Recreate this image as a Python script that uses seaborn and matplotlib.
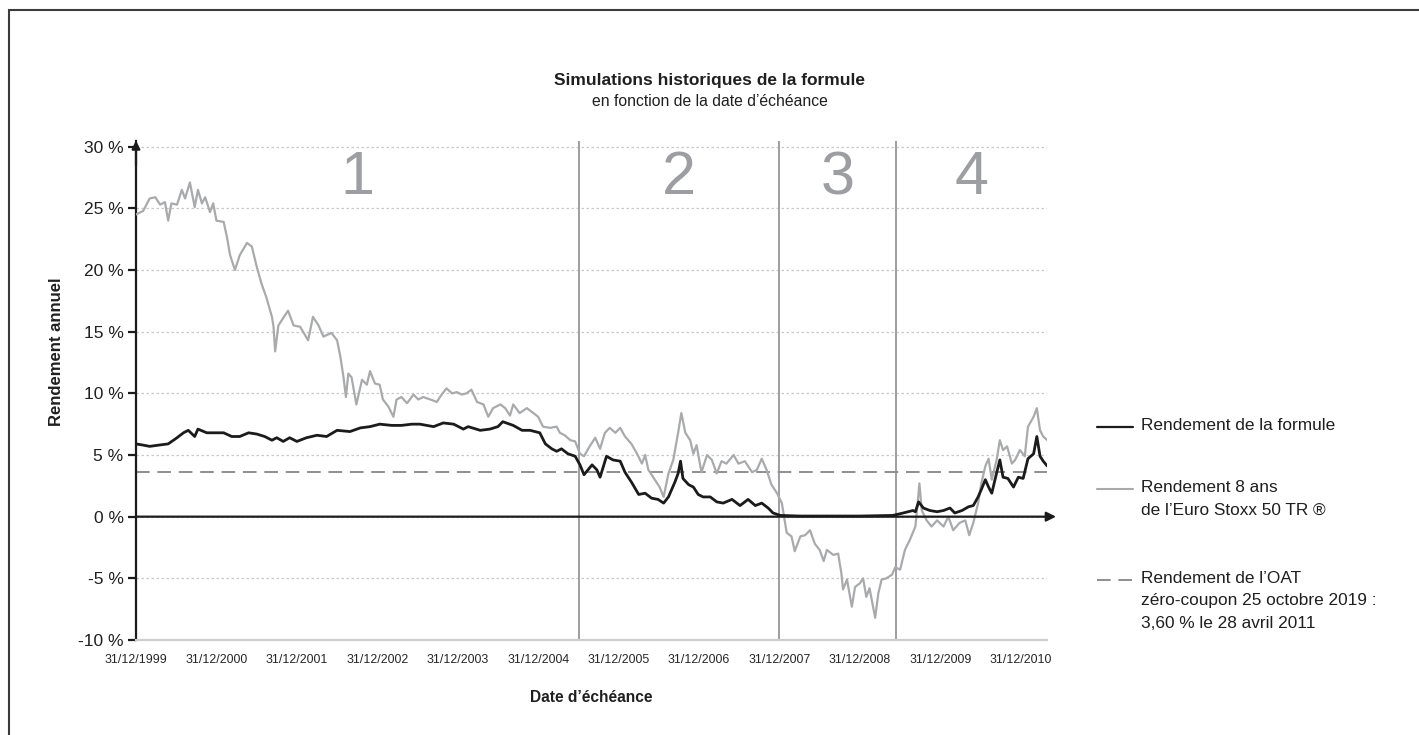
import matplotlib
matplotlib.use("Agg")
import matplotlib.pyplot as plt
import pandas as pd
import seaborn as sns
from matplotlib.lines import Line2D
from matplotlib.patches import Rectangle

# Data (decimal year of maturity, annual return in %)
stoxx_year = [
    2000.00, 2000.09, 2000.17, 2000.24, 2000.30, 2000.36, 2000.40, 2000.44, 2000.51, 2000.57, 2000.61, 2000.67, 2000.73, 2000.77, 2000.82, 2000.86, 2000.92, 2000.96,
    2001.00, 2001.09, 2001.13, 2001.17, 2001.23, 2001.29, 2001.38, 2001.44, 2001.50, 2001.56, 2001.62, 2001.69, 2001.71, 2001.73, 2001.77, 2001.89, 2001.96,
    2002.04, 2002.14, 2002.20, 2002.27, 2002.33, 2002.43, 2002.50, 2002.54, 2002.58, 2002.61, 2002.64, 2002.68, 2002.74, 2002.81, 2002.87, 2002.91, 2002.97,
    2003.03, 2003.07, 2003.14, 2003.20, 2003.24, 2003.30, 2003.37, 2003.45, 2003.51, 2003.57, 2003.66, 2003.74, 2003.80, 2003.86, 2003.93, 2003.99,
    2004.05, 2004.11, 2004.17, 2004.24, 2004.32, 2004.38, 2004.44, 2004.53, 2004.59, 2004.65, 2004.69, 2004.77, 2004.86, 2004.94,
    2005.00, 2005.06, 2005.15, 2005.23, 2005.27, 2005.33, 2005.40, 2005.46, 2005.52, 2005.57, 2005.64, 2005.71, 2005.77, 2005.83, 2005.89, 2005.96,
    2006.02, 2006.08, 2006.16, 2006.23, 2006.29, 2006.33, 2006.37, 2006.45, 2006.51, 2006.56, 2006.62, 2006.68, 2006.74, 2006.78, 2006.83, 2006.89, 2006.93, 2006.97,
    2007.03, 2007.10, 2007.16, 2007.22, 2007.28, 2007.34, 2007.43, 2007.49, 2007.57, 2007.66, 2007.72, 2007.78, 2007.84, 2007.90, 2007.97,
    2008.03, 2008.05, 2008.09, 2008.15, 2008.19, 2008.26, 2008.32, 2008.38, 2008.44, 2008.50, 2008.55, 2008.59, 2008.67, 2008.73, 2008.77, 2008.79, 2008.84, 2008.90, 2008.94,
    2009.00, 2009.04, 2009.08, 2009.12, 2009.19, 2009.23, 2009.27, 2009.33, 2009.40, 2009.44, 2009.50, 2009.56, 2009.62, 2009.69, 2009.71, 2009.74, 2009.77, 2009.83, 2009.89, 2009.96,
    2010.04, 2010.10, 2010.16, 2010.24, 2010.31, 2010.36, 2010.41, 2010.47, 2010.51, 2010.56, 2010.60, 2010.64, 2010.70, 2010.74, 2010.78, 2010.83, 2010.89, 2010.93, 2010.99,
    2011.05, 2011.09, 2011.16, 2011.20, 2011.24, 2011.28, 2011.33,
]
stoxx_value = [
    24.5, 24.8, 25.8, 25.9, 25.3, 25.5, 24.0, 25.4, 25.3, 26.5, 25.8, 27.1, 25.1, 26.5, 25.4, 25.9, 24.7, 25.4,
    24.0, 23.9, 22.7, 21.2, 20.0, 21.2, 22.2, 21.9, 20.3, 18.9, 17.8, 16.2, 15.4, 13.4, 15.5, 16.7, 15.5,
    15.4, 14.3, 16.2, 15.5, 14.6, 14.9, 14.3, 13.0, 11.3, 9.7, 11.6, 11.3, 9.1, 11.1, 10.7, 11.8, 10.8,
    10.7, 9.5, 8.9, 8.1, 9.5, 9.7, 9.2, 9.9, 9.5, 9.7, 9.5, 9.3, 9.9, 10.4, 10.0, 10.1,
    9.9, 10.0, 10.3, 9.3, 9.1, 8.1, 8.8, 9.1, 8.8, 8.2, 9.1, 8.4, 8.8, 8.4,
    8.1, 7.3, 7.2, 7.3, 6.8, 6.6, 6.2, 6.1, 5.1, 4.9, 5.7, 6.4, 5.5, 6.8, 7.2, 6.8,
    7.2, 6.5, 5.9, 5.1, 4.3, 5.0, 3.8, 3.0, 2.4, 1.6, 3.5, 4.6, 6.8, 8.4, 6.8, 6.2, 5.1, 5.8,
    3.6, 5.0, 4.6, 3.5, 4.5, 4.3, 5.0, 4.3, 4.5, 3.6, 3.8, 4.7, 3.8, 2.6, 1.9,
    1.1, 0.3, -1.3, -1.6, -2.8, -1.6, -1.5, -1.1, -2.2, -2.7, -3.6, -2.7, -3.1, -3.0, -4.6, -5.9, -5.1, -7.3, -5.7,
    -5.4, -5.0, -6.5, -5.8, -8.2, -6.2, -5.1, -5.0, -4.7, -4.1, -4.3, -2.7, -1.9, -0.8, 0.5, 2.7, 0.5, -0.3, -0.8, -0.3,
    -0.8, 0.0, -1.1, -0.5, -0.3, -1.5, -0.5, 1.1, 2.7, 4.1, 4.7, 3.0, 4.6, 6.2, 5.4, 5.7, 4.3, 4.6, 5.4,
    4.9, 7.3, 8.1, 8.8, 7.0, 6.5, 6.2,
]

formule_year = [
    2000.00, 2000.09, 2000.17, 2000.28, 2000.40, 2000.51, 2000.59, 2000.65, 2000.73, 2000.77, 2000.88, 2000.98,
    2001.09, 2001.19, 2001.29, 2001.40, 2001.50, 2001.60, 2001.69, 2001.75, 2001.83, 2001.91,
    2002.00, 2002.12, 2002.25, 2002.37, 2002.50, 2002.66, 2002.79, 2002.91,
    2003.03, 2003.18, 2003.30, 2003.43, 2003.53, 2003.70, 2003.82, 2003.95,
    2004.07, 2004.13, 2004.28, 2004.40, 2004.50, 2004.56, 2004.69, 2004.80, 2004.90,
    2005.02, 2005.09, 2005.17, 2005.23, 2005.29, 2005.37, 2005.46, 2005.52, 2005.57, 2005.67, 2005.73, 2005.77, 2005.85, 2005.93,
    2006.02, 2006.08, 2006.16, 2006.25, 2006.33, 2006.41, 2006.49, 2006.56, 2006.62, 2006.70, 2006.74, 2006.77, 2006.80, 2006.87, 2006.93, 2006.99,
    2007.05, 2007.14, 2007.22, 2007.30, 2007.41, 2007.51, 2007.61, 2007.70, 2007.78, 2007.86, 2007.92,
    2008.01, 2008.26, 2008.63,
    2009.00, 2009.41, 2009.54, 2009.66, 2009.69, 2009.73, 2009.79, 2009.87, 2009.96,
    2010.04, 2010.12, 2010.18, 2010.27, 2010.35, 2010.41, 2010.47, 2010.51, 2010.56, 2010.60, 2010.64, 2010.68, 2010.74, 2010.78, 2010.84, 2010.91, 2010.97,
    2011.03, 2011.09, 2011.16, 2011.20, 2011.24, 2011.28, 2011.33,
]
formule_value = [
    5.9, 5.8, 5.7, 5.8, 5.9, 6.4, 6.8, 7.0, 6.5, 7.1, 6.8, 6.8,
    6.8, 6.5, 6.5, 6.8, 6.7, 6.5, 6.2, 6.4, 6.1, 6.4,
    6.1, 6.4, 6.6, 6.5, 7.0, 6.9, 7.2, 7.3,
    7.5, 7.4, 7.4, 7.5, 7.5, 7.3, 7.6, 7.5,
    7.1, 7.3, 7.0, 7.1, 7.3, 7.7, 7.4, 7.0, 7.0,
    6.8, 5.9, 5.5, 5.3, 5.5, 5.1, 4.9, 4.2, 3.4, 4.2, 3.8, 3.2, 4.9, 4.6,
    4.5, 3.6, 2.8, 1.8, 1.9, 1.5, 1.4, 1.1, 1.6, 2.8, 3.5, 4.5, 3.1, 2.6, 2.4, 1.8,
    1.6, 1.6, 1.2, 1.1, 1.4, 0.9, 1.4, 0.9, 1.1, 0.7, 0.3,
    0.1, 0.05, 0.05,
    0.05, 0.1, 0.3, 0.5, 0.4, 1.2, 0.7, 0.5, 0.4,
    0.5, 0.7, 0.3, 0.5, 0.8, 0.9, 1.6, 2.2, 3.0, 2.4, 1.9, 3.0, 4.6, 3.2, 3.1, 2.4, 3.2,
    3.1, 4.7, 5.1, 6.5, 4.9, 4.5, 4.1,
]

oat_rate = 3.60
zone_bounds = ["1999-12-31", "2005-07-04", "2007-12-31", "2009-06-13", "2011-04-29"]
zone_labels = ["1", "2", "3", "4"]
x_tick_dates = ["%d-12-31" % y for y in range(1999, 2011)]
y_ticks = [-10, -5, 0, 5, 10, 15, 20, 25, 30]

legend_labels = [
    "Rendement de la formule",
    "Rendement 8 ans\nde l\u2019Euro Stoxx 50 TR \u00ae",
    "Rendement de l\u2019OAT\nz\u00e9ro-coupon 25 octobre 2019 :\n3,60 % le 28 avril 2011",
]

GRAY = "#a9aaac"
BLACK = "#1b1b1b"
ZONE_GRAY = "#9d9ea1"
DASH_GRAY = "#8e8e8e"


def year_to_date(years):
    base = pd.Timestamp("1999-12-31")
    return [base + pd.to_timedelta((y - 2000.0) * 365.25, unit="D") for y in years]


df_stoxx = pd.DataFrame({"date": year_to_date(stoxx_year), "value": stoxx_value})
df_formule = pd.DataFrame({"date": year_to_date(formule_year), "value": formule_value})

sns.set_style("white")
plt.rcParams["font.family"] = ["Liberation Sans", "DejaVu Sans"]

fig = plt.figure(figsize=(14.19, 7.35), dpi=100)
ax = fig.add_axes([136 / 1419, 95 / 735, 911 / 1419, 499.5 / 735])

# zone separators
for d in zone_bounds[1:-1]:
    ax.axvline(pd.Timestamp(d), color=ZONE_GRAY, lw=1.4, zorder=1)

ax.axhline(oat_rate, color=DASH_GRAY, lw=1.4, dashes=(7, 4), zorder=2)

sns.lineplot(data=df_stoxx, x="date", y="value", color=GRAY, lw=1.6,
             estimator=None, sort=False, ax=ax, zorder=3)
sns.lineplot(data=df_formule, x="date", y="value", color=BLACK, lw=2.0,
             estimator=None, sort=False, ax=ax, zorder=4)

# zone numbers
bounds = pd.to_datetime(zone_bounds)
for i, lab in enumerate(zone_labels):
    mid = bounds[i] + (bounds[i + 1] - bounds[i]) / 2
    ax.text(mid, 27.4, lab, ha="center", va="center", fontsize=44, color=ZONE_GRAY)

ax.set_xlim(pd.Timestamp(zone_bounds[0]), pd.Timestamp(zone_bounds[-1]))
ax.set_ylim(-10, 30.5)

ax.set_xticks(pd.to_datetime(x_tick_dates))
ax.set_xticklabels([pd.Timestamp(d).strftime("%d/%m/%Y") for d in x_tick_dates], fontsize=8.9)
ax.set_yticks(y_ticks)
ax.set_yticklabels(["%d %%" % v for v in y_ticks], fontsize=12.5, color="#1f1f1f")
ax.tick_params(axis="x", length=5, width=1.2, color="#c4c4c4", pad=5)
ax.tick_params(axis="y", length=6, width=1.6, color=BLACK, pad=3, left=True)
ax.set_xlabel("")
ax.set_ylabel("")

ax.yaxis.grid(True, color="#c9c9c9", lw=0.9, linestyle=(0, (2, 2)))
ax.xaxis.grid(False)
for s in ["top", "right"]:
    ax.spines[s].set_visible(False)
ax.spines["bottom"].set_color("#cdcdcd")
ax.spines["bottom"].set_linewidth(1.6)
ax.spines["left"].set_color(BLACK)
ax.spines["left"].set_linewidth(1.6)

# axis arrows
ax.annotate("", xy=(0, 1.0), xytext=(0, 0.95), xycoords="axes fraction",
            arrowprops=dict(arrowstyle="-|>", color=BLACK, lw=1.6, mutation_scale=12,
                            shrinkA=0, shrinkB=0), annotation_clip=False)
ax.annotate("", xy=(1.0099, 0), xytext=(0, 0), xycoords=ax.get_yaxis_transform(),
            arrowprops=dict(arrowstyle="-|>", color=BLACK, lw=1.6, mutation_scale=14,
                            shrinkA=0, shrinkB=0), annotation_clip=False, zorder=5)

# titles and axis labels
fig.text(0.5, 1 - 80 / 735, "Simulations historiques de la formule", ha="center", va="center",
         fontsize=12.5, fontweight="bold", color="#1f1f1f")
fig.text(0.5, 1 - 102 / 735, "en fonction de la date d\u2019\u00e9ch\u00e9ance", ha="center", va="center",
         fontsize=11.3, color="#1f1f1f")
fig.text(591 / 1419, 1 - 698 / 735, "Date d\u2019\u00e9ch\u00e9ance", ha="center", va="center",
         fontsize=11.2, fontweight="bold", color="#1f1f1f")
fig.text(57 / 1419, 1 - 352 / 735, "Rendement annuel", ha="center", va="center", rotation=90,
         fontsize=12, fontweight="bold", color="#1f1f1f")

# legend on the right
leg_styles = [dict(color=BLACK, lw=1.6), dict(color=GRAY, lw=1.5),
              dict(color=DASH_GRAY, lw=1.4, dashes=(7, 4))]
leg_y = [427, 489, 580]
for lab, st, y in zip(legend_labels, leg_styles, leg_y):
    yf = 1 - y / 735
    fig.add_artist(Line2D([1097 / 1419, 1133 / 1419], [yf, yf], transform=fig.transFigure, **st))
    fig.text(1141 / 1419, yf + 9 / 735, lab, ha="left", va="top", fontsize=12.4,
             color="#1f1f1f", linespacing=1.62)

# outer frame
fig.add_artist(Rectangle((9 / 1419, -0.1), 1.2, 1 - 10 / 735 + 0.1, transform=fig.transFigure,
                         fill=False, edgecolor="#3c3c3c", lw=1.5))

fig.savefig("out.png", dpi=100)
